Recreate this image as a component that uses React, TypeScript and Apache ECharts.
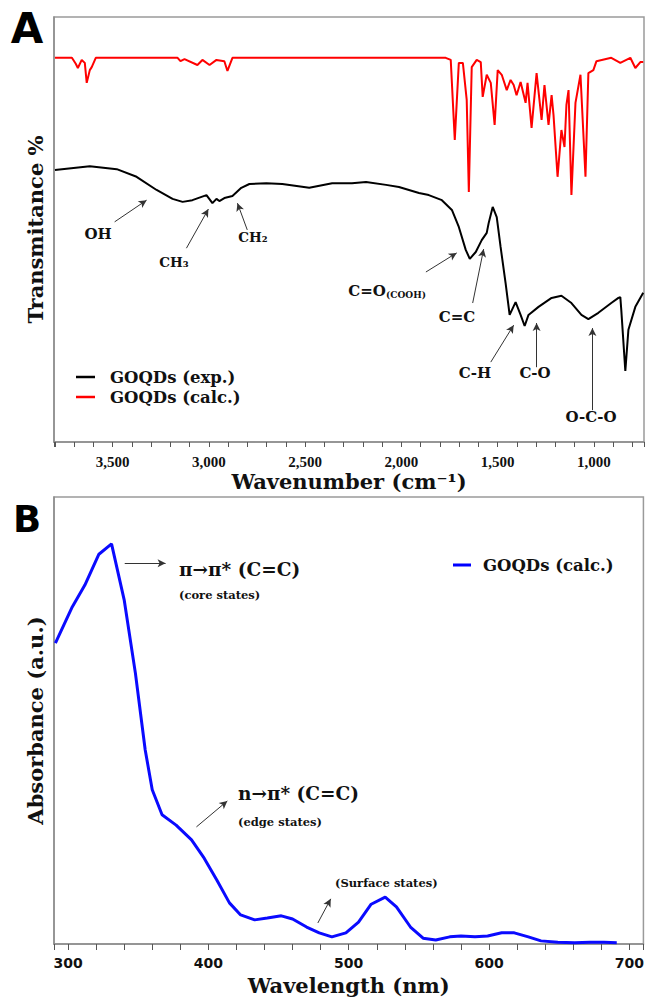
import React, { useEffect, useRef } from "react";
import * as echarts from "echarts";

// Panel A — FTIR (wavenumber in cm-1, transmittance in arbitrary %)
const expWavenumber = [3800, 3619, 3479, 3376, 3272, 3189, 3137, 3086, 3013, 2982, 2961, 2946, 2920, 2878, 2832, 2790, 2702, 2619, 2479, 2360, 2257, 2184, 2080, 2013, 1909, 1858, 1790, 1738, 1702, 1666, 1645, 1614, 1583, 1557, 1547, 1526, 1505, 1485, 1459, 1438, 1407, 1381, 1360, 1340, 1288, 1220, 1169, 1117, 1065, 1029, 977, 910, 873, 863, 858, 837, 821, 785, 744];
const expTransmittance = [64.0, 64.9, 64.2, 62.4, 59.3, 57.2, 56.5, 56.9, 58.1, 56.2, 57.2, 56.7, 57.4, 57.9, 59.8, 60.7, 60.9, 60.7, 59.8, 60.9, 60.9, 61.2, 60.5, 60.0, 58.6, 58.1, 56.9, 54.6, 50.6, 45.2, 43.1, 44.7, 47.5, 49.2, 51.5, 55.3, 52.9, 45.9, 37.4, 29.9, 32.9, 29.9, 27.3, 29.9, 31.8, 33.9, 34.4, 32.7, 29.9, 28.9, 30.4, 32.7, 33.9, 34.1, 31.1, 16.7, 26.4, 31.8, 35.1];

const calcWavenumber = [3800, 3712, 3692, 3681, 3661, 3645, 3635, 3619, 3609, 3588, 3163, 3148, 3127, 3060, 3034, 2997, 2961, 2920, 2904, 2878, 1770, 1744, 1723, 1702, 1681, 1661, 1650, 1635, 1609, 1588, 1578, 1557, 1536, 1516, 1500, 1479, 1453, 1433, 1417, 1402, 1381, 1355, 1345, 1324, 1298, 1272, 1257, 1236, 1220, 1210, 1189, 1169, 1153, 1143, 1132, 1117, 1096, 1070, 1044, 1029, 1003, 987, 910, 863, 811, 785, 759, 744];
const calcTransmittance = [90.4, 90.4, 89.0, 88.0, 89.9, 89.2, 84.5, 87.5, 88.2, 90.4, 90.4, 89.6, 90.1, 88.7, 89.9, 88.7, 89.9, 89.6, 87.3, 90.4, 90.4, 89.9, 71.1, 89.2, 89.2, 80.5, 58.8, 88.2, 89.9, 89.4, 81.2, 86.4, 84.5, 74.6, 87.5, 86.4, 82.8, 85.2, 84.0, 81.6, 84.7, 79.8, 84.5, 73.9, 86.8, 75.8, 84.0, 74.6, 81.6, 76.9, 62.4, 73.4, 69.4, 79.3, 82.8, 58.1, 79.8, 86.4, 62.4, 86.8, 87.5, 89.6, 90.4, 89.2, 90.4, 88.0, 89.4, 89.4];

// Panel B — UV-Vis (wavelength nm, absorbance a.u.)
const uvWavelength = [291, 303, 312, 322, 331, 340, 348, 355, 360, 367, 377, 388, 397, 406, 415, 423, 433, 442, 452, 460, 470, 479, 488, 498, 507, 516, 526, 534, 544, 553, 562, 572, 580, 590, 599, 609, 618, 628, 637, 649, 661, 672, 682, 691];
const uvAbsorbance = [0.673, 0.754, 0.803, 0.872, 0.895, 0.770, 0.606, 0.434, 0.345, 0.289, 0.266, 0.233, 0.192, 0.143, 0.092, 0.065, 0.054, 0.058, 0.063, 0.056, 0.038, 0.025, 0.016, 0.025, 0.049, 0.089, 0.105, 0.083, 0.038, 0.013, 0.009, 0.016, 0.018, 0.016, 0.018, 0.025, 0.025, 0.016, 0.007, 0.004, 0.003, 0.004, 0.004, 0.003];

// annotation arrows (data coordinates): [x1, y1, x2, y2]
const ftirArrows = [
  [3490, 51.8, 3324, 56.9],
  [3117, 45.6, 3003, 54.8],
  [2801, 49.9, 2852, 56.2],
  [1873, 40.0, 1713, 44.5],
  [1630, 32.7, 1573, 45.4],
  [1536, 18.8, 1417, 27.5],
  [1298, 17.6, 1298, 28.0],
  [1008, 7.5, 1008, 26.8],
];
const uvArrows = [
  [340.4, 0.852, 369.5, 0.852],
  [391.5, 0.262, 413.5, 0.32],
  [478, 0.047, 487.2, 0.101],
];

const SERIF = "DejaVu Serif";

function pairs(xs: number[], ys: number[]) {
  return xs.map((x, i) => [x, ys[i]]);
}

function arrowLines(arr: number[][]) {
  return arr.map((a) => [{ coord: [a[0], a[1]] }, { coord: [a[2], a[3]] }]);
}

function txt(text: string, x: number, y: number, size: number, extra: any = {}) {
  return {
    type: "text",
    x,
    y,
    silent: true,
    style: {
      text,
      fill: "#111",
      fontFamily: SERIF,
      fontWeight: "bold",
      fontSize: size,
      align: "center",
      verticalAlign: "middle",
      textAlign: "center",
      textVerticalAlign: "middle",
      ...extra,
    },
  };
}

export default function App() {
  const ref = useRef<HTMLDivElement>(null);
  useEffect(() => {
    if (!ref.current) return;
    const chart = echarts.init(ref.current, null, { renderer: "svg" });
    const axisLineStyle = { color: "#8c8c8c", width: 1.5 };
    const markLineCommon = {
      silent: true,
      symbol: ["none", "arrow"],
      symbolSize: [6, 8],
      label: { show: false },
      lineStyle: { color: "#333", width: 1, type: "solid" },
      emphasis: { disabled: true },
    };
    const option: any = {
      animation: false,
      backgroundColor: "#fff",
      grid: [
        { left: 54, top: 17, right: 2, bottom: 555, show: true, borderColor: "#9a9a9a", borderWidth: 1.5 },
        { left: 54, top: 497, right: 1, bottom: 53, show: true, borderColor: "#9a9a9a", borderWidth: 1.5 },
      ],
      legend: [
        {
          left: 76,
          top: 367,
          orient: "vertical",
          padding: 0,
          itemGap: 0,
          itemWidth: 19,
          itemHeight: 2.5,
          icon: "rect",
          data: ["GOQDs (exp.)", "GOQDs (calc.)"],
          textStyle: { fontFamily: SERIF, fontWeight: "bold", fontSize: 16.5, color: "#111", lineHeight: 20, padding: [0, 0, 0, 10] },
        },
        {
          left: 453,
          top: 555,
          orient: "vertical",
          padding: 0,
          itemWidth: 18,
          itemHeight: 3,
          icon: "rect",
          data: ["UV calc"],
          formatter: () => "GOQDs (calc.)",
          textStyle: { fontFamily: SERIF, fontWeight: "bold", fontSize: 16.5, color: "#111", lineHeight: 20, padding: [0, 0, 0, 7] },
        },
      ],
      xAxis: [
        {
          type: "value",
          gridIndex: 0,
          min: 740,
          max: 3805,
          inverse: true,
          splitNumber: 30,
          splitLine: { show: false },
          axisLine: { show: true, lineStyle: axisLineStyle },
          axisTick: { show: true, length: 5, lineStyle: { color: "#555", width: 1 } },
          axisLabel: {
            margin: 12,
            fontFamily: "Liberation Serif",
            fontWeight: "bold",
            fontSize: 15,
            color: "#111",
            formatter: (v: number) => (v % 500 === 0 ? `${Math.floor(v / 1000)},${String(v % 1000).padStart(3, "0")}` : ""),
          },
          name: "Wavenumber (cm⁻¹)",
          nameLocation: "middle",
          nameGap: 29,
          nameTextStyle: { fontFamily: SERIF, fontWeight: "bold", fontSize: 21, color: "#111" },
        },
        {
          type: "value",
          gridIndex: 1,
          min: 290,
          max: 710,
          splitNumber: 21,
          splitLine: { show: false },
          axisLine: { show: true, lineStyle: axisLineStyle },
          axisTick: { show: true, length: 6, lineStyle: { color: "#555", width: 1 } },
          axisLabel: {
            margin: 12,
            fontFamily: "DejaVu Sans",
            fontWeight: "bold",
            fontSize: 14,
            color: "#111",
            formatter: (v: number) => (v % 100 === 0 ? String(v) : ""),
          },
          name: "Wavelength (nm)",
          nameLocation: "middle",
          nameGap: 31,
          nameTextStyle: { fontFamily: SERIF, fontWeight: "bold", fontSize: 21, color: "#111" },
        },
      ],
      yAxis: [
        {
          type: "value",
          gridIndex: 0,
          min: 0,
          max: 100,
          splitLine: { show: false },
          axisLine: { show: true, lineStyle: axisLineStyle },
          axisTick: { show: false },
          axisLabel: { show: false },
          name: "Transmitance %",
          nameLocation: "middle",
          nameGap: 8,
          nameTextStyle: { fontFamily: SERIF, fontWeight: "bold", fontSize: 21, color: "#111" },
        },
        {
          type: "value",
          gridIndex: 1,
          min: 0,
          max: 1,
          splitLine: { show: false },
          axisLine: { show: true, lineStyle: axisLineStyle },
          axisTick: { show: false },
          axisLabel: { show: false },
          name: "Absorbance (a.u.)",
          nameLocation: "middle",
          nameGap: 8,
          nameTextStyle: { fontFamily: SERIF, fontWeight: "bold", fontSize: 21, color: "#111" },
        },
      ],
      series: [
        {
          name: "GOQDs (calc.)",
          type: "line",
          xAxisIndex: 0,
          yAxisIndex: 0,
          data: pairs(calcWavenumber, calcTransmittance),
          showSymbol: false,
          symbol: "none",
          color: "#ff0000",
          lineStyle: { color: "#ff0000", width: 2 },
          z: 2,
        },
        {
          name: "GOQDs (exp.)",
          type: "line",
          xAxisIndex: 0,
          yAxisIndex: 0,
          data: pairs(expWavenumber, expTransmittance),
          showSymbol: false,
          symbol: "none",
          color: "#000",
          lineStyle: { color: "#000", width: 2 },
          z: 3,
          markLine: { ...markLineCommon, data: arrowLines(ftirArrows) },
        },
        {
          name: "UV calc",
          type: "line",
          xAxisIndex: 1,
          yAxisIndex: 1,
          data: pairs(uvWavelength, uvAbsorbance),
          showSymbol: false,
          symbol: "none",
          color: "#0000ff",
          lineStyle: { color: "#0a0aff", width: 3 },
          markLine: { ...markLineCommon, data: arrowLines(uvArrows) },
        },
      ],
      graphic: [
        txt("A", 27, 28, 42, { fontFamily: "DejaVu Sans", fill: "#000" }),
        txt("B", 27, 519, 37, { fontFamily: "DejaVu Sans", fill: "#000" }),
        txt("OH", 98, 234, 15),
        txt("CH₃", 174, 262, 13.5),
        txt("CH₂", 253, 237, 13.5),
        txt("C=O", 367, 291, 15),
        txt("(COOH)", 406, 295, 9),
        txt("C=C", 457, 317, 15),
        txt("C-H", 475, 373, 15),
        txt("C-O", 535, 373, 15),
        txt("O-C-O", 591, 417, 15),
        txt("π→π* (C=C)", 179, 569, 18.5, { align: "left", textAlign: "left" }),
        txt("(core states)", 179, 595, 11.5, { align: "left", textAlign: "left" }),
        txt("n→π* (C=C)", 238, 793, 18.5, { align: "left", textAlign: "left" }),
        txt("(edge states)", 238, 822, 11.5, { align: "left", textAlign: "left" }),
        txt("(Surface states)", 335, 883, 11.5, { align: "left", textAlign: "left" }),
      ],
    };
    chart.setOption(option);
    return () => chart.dispose();
  }, []);
  return <div ref={ref} style={{ position: "absolute", left: 0, top: 0, width: 647, height: 997 }} />;
}
